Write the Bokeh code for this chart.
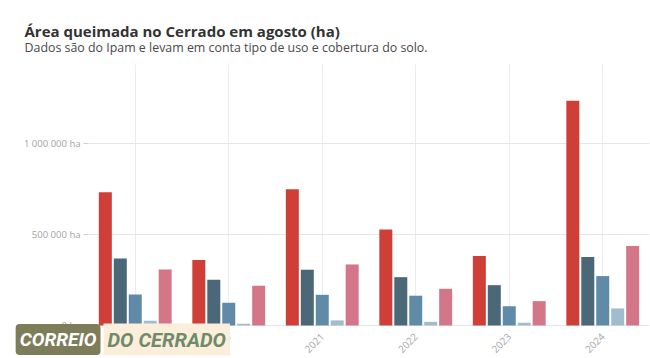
import math
from bokeh.plotting import figure
from bokeh.models import ColumnDataSource, Range1d, Label, FixedTicker
from bokeh.transform import dodge
from bokeh.embed import file_html
from bokeh.resources import INLINE

# ---- data ----
years = ["2019", "2020", "2021", "2022", "2023", "2024"]
series_names = ["Formação savânica", "Pastagem", "Formação campestre", "Formação florestal", "Outros"]
formacao_savanica = [733000, 360000, 750000, 528000, 382000, 1237000]
pastagem = [369000, 252000, 307000, 266000, 222000, 377000]
formacao_campestre = [171000, 125000, 169000, 164000, 106000, 272000]
formacao_florestal = [26000, 9000, 28000, 20000, 15000, 94000]
outros = [308000, 219000, 336000, 202000, 134000, 437000]
series_values = [formacao_savanica, pastagem, formacao_campestre, formacao_florestal, outros]
colors = ["#cf3f38", "#4b6878", "#5f8ba8", "#a0bccd", "#d27688"]
y_ticks = [0, 500000, 1000000]
y_tick_labels = ["0 ha", "500 000 ha", "1 000 000 ha"]

title = "Área queimada no Cerrado em agosto (ha)"
subtitle = "Dados são do Ipam e levam em conta tipo de uso e cobertura do solo."

FONT = "Open Sans"
Y_TOP = 1436000  # top of the plotting area

# year positions on a numeric axis (group i centred at i + 0.5)
centers = [i + 0.5 for i in range(len(years))]
data = {"xc": centers, "year": years}
keys = []
for i, vals in enumerate(series_values):
    k = f"s{i}"
    keys.append(k)
    data[k] = vals
source = ColumnDataSource(data)

p = figure(
    width=650, height=358,
    x_range=Range1d(-0.9412, 6.0107),
    y_range=Range1d(-181600, 1788700),
    output_backend="svg", toolbar_location=None,
    min_border_left=0, min_border_right=0, min_border_top=0, min_border_bottom=0,
)
p.outline_line_color = None
p.background_fill_color = "white"
p.border_fill_color = "white"

step = 0.16
bar_w = 0.139
n = len(keys)
for i, (k, c, name) in enumerate(zip(keys, colors, series_names)):
    off = (i - (n - 1) / 2) * step
    p.vbar(x=dodge("xc", off), top=k, width=bar_w, source=source,
           fill_color=c, line_color=None, legend_label=name)

p.legend.visible = False

# axes (drawn at fixed data locations so the whole canvas is the frame)
p.yaxis.fixed_location = 0
p.yaxis.ticker = FixedTicker(ticks=y_ticks)
p.yaxis.major_label_overrides = dict(zip(y_ticks, y_tick_labels))
p.yaxis.axis_line_color = None
p.yaxis.major_tick_line_color = "#d0d0d0"
p.yaxis.major_tick_out = 5
p.yaxis.major_tick_in = 0
p.yaxis.minor_tick_line_color = None
p.yaxis.major_label_text_color = "#a3a3a3"
p.yaxis.major_label_text_font = FONT
p.yaxis.major_label_text_font_size = "9.5px"
p.yaxis.major_label_standoff = 3

p.xaxis.fixed_location = 0
p.xaxis.ticker = FixedTicker(ticks=centers)
p.xaxis.major_label_overrides = dict(zip(centers, years))
p.xaxis.axis_line_color = None
p.xaxis.major_tick_line_color = None
p.xaxis.minor_tick_line_color = None
p.xaxis.major_label_orientation = math.pi / 4
p.xaxis.major_label_text_color = "#a8a8a8"
p.xaxis.major_label_text_font = FONT
p.xaxis.major_label_text_font_size = "10px"
p.xaxis.major_label_standoff = 3

# grid lines limited to the plotting area
xg = p.xgrid[0]
yg = p.ygrid[0]
xg.ticker = FixedTicker(ticks=centers)
yg.ticker = FixedTicker(ticks=y_ticks)
if "cross_bounds" in xg.properties():
    xg.grid_line_color = "#ececec"
    yg.grid_line_color = "#e6e6e6"
    xg.cross_bounds = (0, Y_TOP)
    yg.cross_bounds = (0, len(years))
else:
    xg.visible = False
    yg.visible = False
    p.segment(x0=centers, y0=[0] * len(centers), x1=centers, y1=[Y_TOP] * len(centers),
              line_color="#ececec", line_width=1, level="underlay")
    p.segment(x0=[0] * len(y_ticks), y0=y_ticks, x1=[len(years)] * len(y_ticks), y1=y_ticks,
              line_color="#e6e6e6", line_width=1, level="underlay")

# titles
p.add_layout(Label(x=24, y=30, x_units="canvas", y_units="canvas", text=title,
                   text_font=FONT, text_font_style="bold", text_font_size="15px",
                   text_color="#333333", text_baseline="middle", text_align="left"))
p.add_layout(Label(x=24, y=47, x_units="canvas", y_units="canvas", text=subtitle,
                   text_font=FONT, text_font_size="12.4px",
                   text_color="#4a4a4a", text_baseline="middle", text_align="left"))

# watermark logo
LOGO_FONT = "Roboto"
p.add_layout(Label(x=103, y=339, x_units="canvas", y_units="canvas", text="DO CERRADO",
                   text_font=LOGO_FONT, text_font_style="bold italic", text_font_size="20px",
                   text_color="#708a6c", text_baseline="middle", text_align="left",
                   background_fill_color="#fbeedb", padding=4))
p.add_layout(Label(x=100, y=339, x_units="canvas", y_units="canvas", text="CORREIO",
                   text_font=LOGO_FONT, text_font_style="bold italic", text_font_size="19px",
                   text_color="white", text_baseline="middle", text_align="right",
                   background_fill_color="#7d7d5a", padding=4, border_radius=4))

open("out.html", "w").write(file_html(p, INLINE))
